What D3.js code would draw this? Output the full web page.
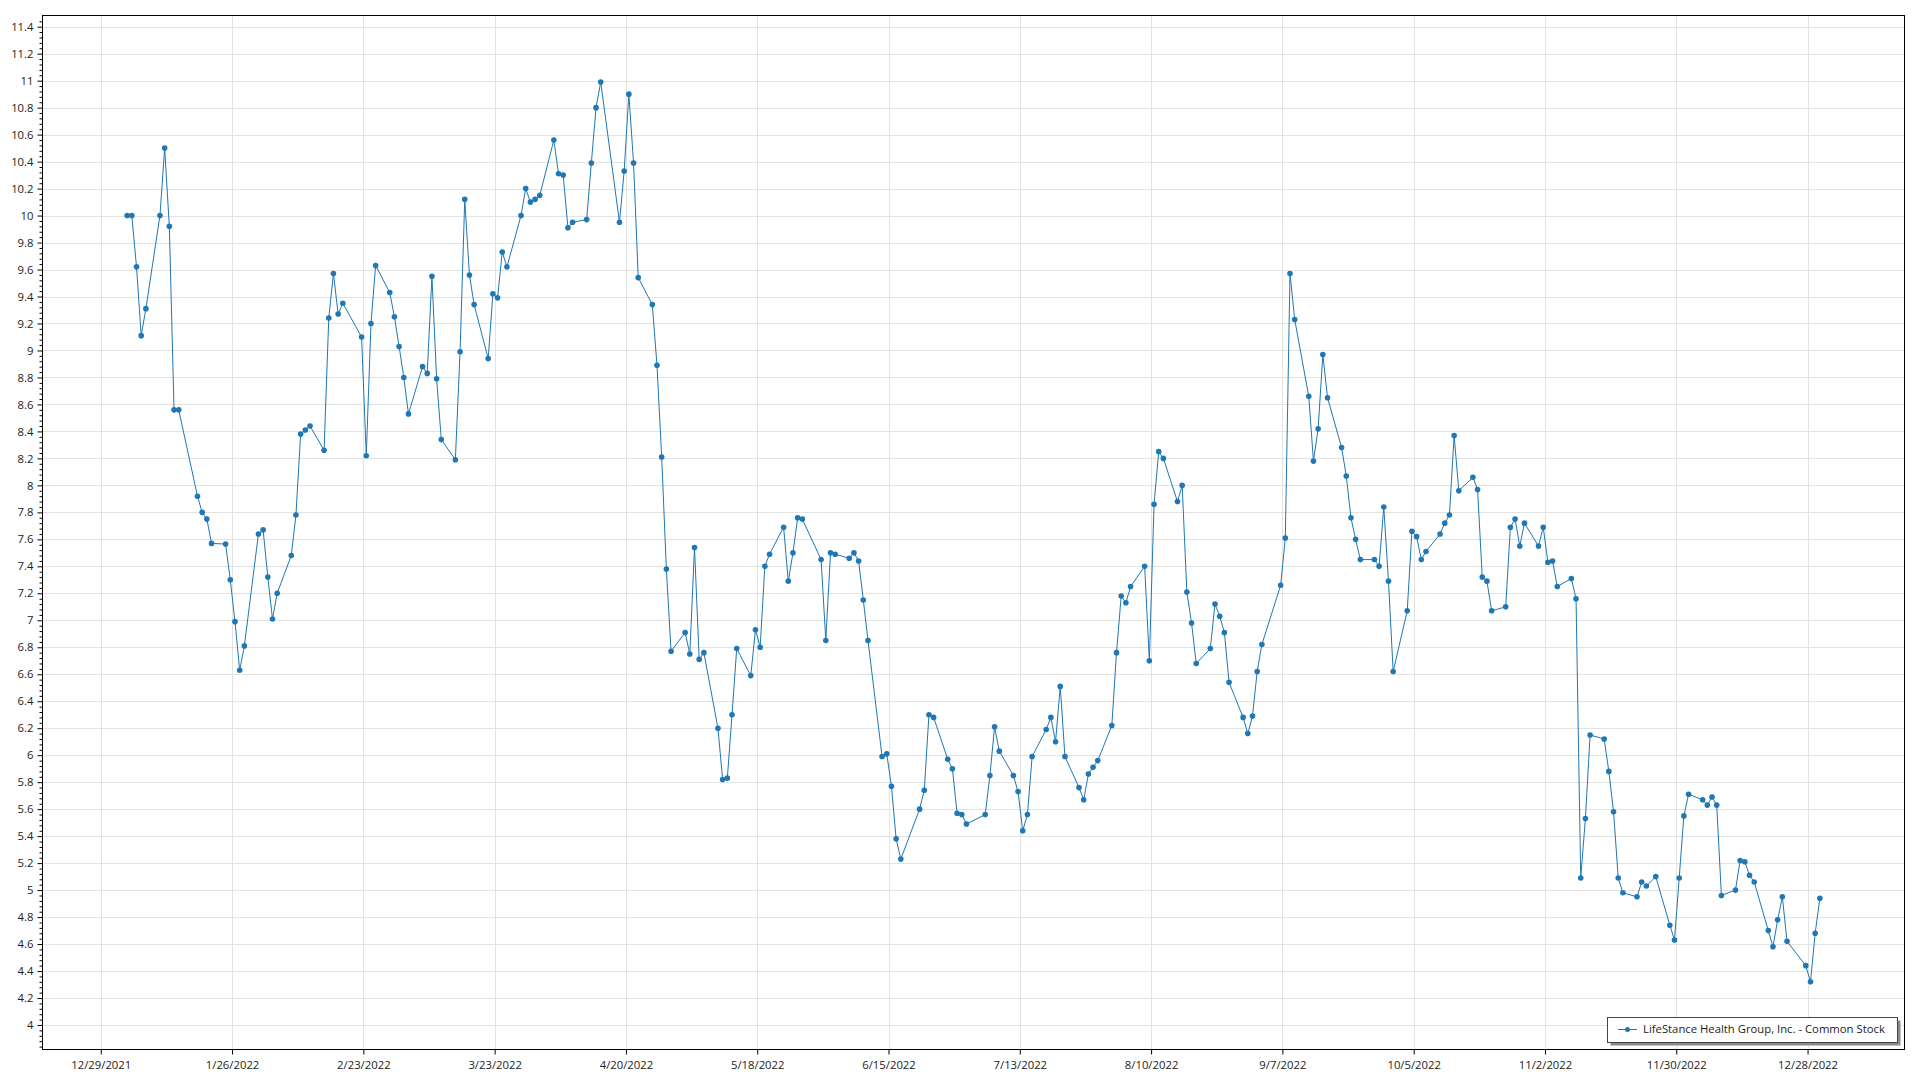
<!DOCTYPE html>
<html><head><meta charset="utf-8">
<script src="https://cdn.jsdelivr.net/npm/d3@7"></script>
<style>
body{margin:0;background:#fff;}
svg{display:block;font-family:"Open Sans","Noto Sans",sans-serif;}
</style>
</head><body>
<svg id="chart" width="1920" height="1080"></svg>
<script>
const seriesName = "LifeStance Health Group, Inc. - Common Stock";

const tradeDates = [
"2022-01-03","2022-01-04","2022-01-05","2022-01-06","2022-01-07","2022-01-10","2022-01-11","2022-01-12","2022-01-13","2022-01-14","2022-01-18","2022-01-19","2022-01-20","2022-01-21","2022-01-24","2022-01-25","2022-01-26","2022-01-27","2022-01-28","2022-01-31",
"2022-02-01","2022-02-02","2022-02-03","2022-02-04","2022-02-07","2022-02-08","2022-02-09","2022-02-10","2022-02-11","2022-02-14","2022-02-15","2022-02-16","2022-02-17","2022-02-18","2022-02-22","2022-02-23","2022-02-24","2022-02-25","2022-02-28",
"2022-03-01","2022-03-02","2022-03-03","2022-03-04","2022-03-07","2022-03-08","2022-03-09","2022-03-10","2022-03-11","2022-03-14","2022-03-15","2022-03-16","2022-03-17","2022-03-18","2022-03-21","2022-03-22","2022-03-23","2022-03-24","2022-03-25","2022-03-28","2022-03-29","2022-03-30","2022-03-31",
"2022-04-01","2022-04-04","2022-04-05","2022-04-06","2022-04-07","2022-04-08","2022-04-11","2022-04-12","2022-04-13","2022-04-14","2022-04-18","2022-04-19","2022-04-20","2022-04-21","2022-04-22","2022-04-25","2022-04-26","2022-04-27","2022-04-28","2022-04-29",
"2022-05-02","2022-05-03","2022-05-04","2022-05-05","2022-05-06","2022-05-09","2022-05-10","2022-05-11","2022-05-12","2022-05-13","2022-05-16","2022-05-17","2022-05-18","2022-05-19","2022-05-20","2022-05-23","2022-05-24","2022-05-25","2022-05-26","2022-05-27","2022-05-31",
"2022-06-01","2022-06-02","2022-06-03","2022-06-06","2022-06-07","2022-06-08","2022-06-09","2022-06-10","2022-06-13","2022-06-14","2022-06-15","2022-06-16","2022-06-17","2022-06-21","2022-06-22","2022-06-23","2022-06-24","2022-06-27","2022-06-28","2022-06-29","2022-06-30",
"2022-07-01","2022-07-05","2022-07-06","2022-07-07","2022-07-08","2022-07-11","2022-07-12","2022-07-13","2022-07-14","2022-07-15","2022-07-18","2022-07-19","2022-07-20","2022-07-21","2022-07-22","2022-07-25","2022-07-26","2022-07-27","2022-07-28","2022-07-29",
"2022-08-01","2022-08-02","2022-08-03","2022-08-04","2022-08-05","2022-08-08","2022-08-09","2022-08-10","2022-08-11","2022-08-12","2022-08-15","2022-08-16","2022-08-17","2022-08-18","2022-08-19","2022-08-22","2022-08-23","2022-08-24","2022-08-25","2022-08-26","2022-08-29","2022-08-30","2022-08-31",
"2022-09-01","2022-09-02","2022-09-06","2022-09-07","2022-09-08","2022-09-09","2022-09-12","2022-09-13","2022-09-14","2022-09-15","2022-09-16","2022-09-19","2022-09-20","2022-09-21","2022-09-22","2022-09-23","2022-09-26","2022-09-27","2022-09-28","2022-09-29","2022-09-30",
"2022-10-03","2022-10-04","2022-10-05","2022-10-06","2022-10-07","2022-10-10","2022-10-11","2022-10-12","2022-10-13","2022-10-14","2022-10-17","2022-10-18","2022-10-19","2022-10-20","2022-10-21","2022-10-24","2022-10-25","2022-10-26","2022-10-27","2022-10-28","2022-10-31",
"2022-11-01","2022-11-02","2022-11-03","2022-11-04","2022-11-07","2022-11-08","2022-11-09","2022-11-10","2022-11-11","2022-11-14","2022-11-15","2022-11-16","2022-11-17","2022-11-18","2022-11-21","2022-11-22","2022-11-23","2022-11-25","2022-11-28","2022-11-29","2022-11-30",
"2022-12-01","2022-12-02","2022-12-05","2022-12-06","2022-12-07","2022-12-08","2022-12-09","2022-12-12","2022-12-13","2022-12-14","2022-12-15","2022-12-16","2022-12-19","2022-12-20","2022-12-21","2022-12-22","2022-12-23","2022-12-27","2022-12-28","2022-12-29","2022-12-30"
];

const closePrices = [
10.00,10.00,9.62,9.11,9.31,10.00,10.50,9.92,8.56,8.56,7.92,7.80,7.75,7.57,7.565,7.30,6.99,6.63,6.81,7.64,
7.67,7.32,7.01,7.20,7.48,7.78,8.38,8.41,8.44,8.26,9.24,9.57,9.27,9.35,9.10,8.22,9.20,9.63,9.43,
9.25,9.03,8.80,8.53,8.88,8.83,9.55,8.79,8.34,8.19,8.99,10.12,9.56,9.34,8.94,9.42,9.39,9.73,9.62,10.00,10.20,10.10,10.12,
10.15,10.56,10.31,10.30,9.91,9.95,9.97,10.39,10.80,10.99,9.95,10.33,10.90,10.39,9.54,9.34,8.89,8.21,7.38,6.77,
6.91,6.75,7.54,6.71,6.76,6.20,5.82,5.83,6.30,6.79,6.59,6.93,6.80,7.40,7.49,7.69,7.29,7.50,7.76,7.75,7.45,
6.85,7.50,7.49,7.46,7.50,7.44,7.15,6.85,5.99,6.01,5.77,5.38,5.23,5.60,5.74,6.30,6.28,5.97,5.90,5.57,5.56,
5.49,5.56,5.85,6.21,6.03,5.85,5.73,5.44,5.56,5.99,6.19,6.28,6.10,6.51,5.99,5.76,5.67,5.86,5.91,5.96,
6.22,6.76,7.18,7.13,7.25,7.40,6.70,7.86,8.25,8.20,7.88,8.00,7.21,6.98,6.68,6.79,7.12,7.03,6.91,6.54,6.28,6.16,6.29,
6.62,6.82,7.26,7.61,9.57,9.23,8.66,8.18,8.42,8.97,8.65,8.28,8.07,7.76,7.60,7.45,7.45,7.40,7.84,7.29,6.62,
7.07,7.66,7.62,7.45,7.51,7.64,7.72,7.78,8.37,7.96,8.06,7.97,7.32,7.29,7.07,7.10,7.69,7.75,7.55,7.72,7.55,
7.69,7.43,7.44,7.25,7.31,7.16,5.09,5.53,6.15,6.12,5.88,5.58,5.09,4.98,4.95,5.06,5.03,5.10,4.74,4.63,5.09,
5.55,5.71,5.67,5.63,5.69,5.63,4.96,5.00,5.22,5.21,5.11,5.06,4.70,4.58,4.78,4.95,4.62,4.44,4.32,4.68,4.94
];

const xTickDates = ["2021-12-29","2022-01-26","2022-02-23","2022-03-23","2022-04-20","2022-05-18","2022-06-15","2022-07-13","2022-08-10","2022-09-07","2022-10-05","2022-11-02","2022-11-30","2022-12-28"];
const xTickLabels = ["12/29/2021","1/26/2022","2/23/2022","3/23/2022","4/20/2022","5/18/2022","6/15/2022","7/13/2022","8/10/2022","9/7/2022","10/5/2022","11/2/2022","11/30/2022","12/28/2022"];
const yTickValues = [4,4.2,4.4,4.6,4.8,5,5.2,5.4,5.6,5.8,6,6.2,6.4,6.6,6.8,7,7.2,7.4,7.6,7.8,8,8.2,8.4,8.6,8.8,9,9.2,9.4,9.6,9.8,10,10.2,10.4,10.6,10.8,11,11.2,11.4];
const yTickLabels = ["4","4.2","4.4","4.6","4.8","5","5.2","5.4","5.6","5.8","6","6.2","6.4","6.6","6.8","7","7.2","7.4","7.6","7.8","8","8.2","8.4","8.6","8.8","9","9.2","9.4","9.6","9.8","10","10.2","10.4","10.6","10.8","11","11.2","11.4"];

const lineColor = "#1f77b4";
const FS = 11.3;
const L = 42.5, R = 1904.5, T = 15.5, B = 1049.5;

const parse = d3.timeParse("%Y-%m-%d");
const pts = tradeDates.map((d, i) => ({date: d3.timeHour.offset(parse(d), 15), value: closePrices[i]}));
const ext = d3.extent(pts, p => p.date);
const span = ext[1] - ext[0];
const x = d3.scaleTime()
  .domain([new Date(+ext[0] - 0.05 * span), new Date(+ext[1] + 0.05 * span)])
  .range([L, R]);
const y = d3.scaleLinear().domain([3.8185, 11.483]).range([B, T]);

const svg = d3.select("#chart");

// gridlines
const grid = svg.append("g");
grid.selectAll("line.h").data(yTickValues).join("line")
  .attr("x1", L).attr("x2", R)
  .attr("y1", d => Math.round(y(d)) + 0.5).attr("y2", d => Math.round(y(d)) + 0.5)
  .attr("stroke", "#e3e3e3").attr("stroke-width", 1);
grid.selectAll("line.v").data(xTickDates).join("line")
  .attr("y1", T).attr("y2", B)
  .attr("x1", d => Math.round(x(parse(d))) + 0.5).attr("x2", d => Math.round(x(parse(d))) + 0.5)
  .attr("stroke", "#e3e3e3").attr("stroke-width", 1);

// axes
const yMinor = d3.range(3.84, 11.48, 0.04).filter(v => Math.abs(v * 5 - Math.round(v * 5)) > 1e-6);
const yAxisMinor = d3.axisLeft(y).tickValues(yMinor).tickSize(3).tickFormat("");
const gym = svg.append("g").attr("transform", `translate(${L},0)`).call(yAxisMinor);
gym.select(".domain").remove();
gym.selectAll("line").attr("stroke", "#000");

const yAxis = d3.axisLeft(y).tickValues(yTickValues).tickSize(5).tickPadding(4)
  .tickFormat((d, i) => yTickLabels[i]);
const gy = svg.append("g").attr("transform", `translate(${L},0)`).call(yAxis);
gy.select(".domain").remove();
gy.selectAll("line").attr("stroke", "#000");
gy.selectAll("text").attr("font-size", FS).attr("fill", "#222").attr("font-family", '"Open Sans",sans-serif');

const xAxis = d3.axisBottom(x).tickValues(xTickDates.map(parse)).tickSize(5).tickPadding(6)
  .tickFormat((d, i) => xTickLabels[i]);
const gx = svg.append("g").attr("transform", `translate(0,${B})`).call(xAxis);
gx.select(".domain").remove();
gx.selectAll("line").attr("stroke", "#000");
gx.selectAll("text").attr("font-size", FS).attr("fill", "#222").attr("font-family", '"Open Sans",sans-serif');

// frame
svg.append("rect").attr("x", L).attr("y", T).attr("width", R - L).attr("height", B - T)
  .attr("fill", "none").attr("stroke", "#000").attr("stroke-width", 1);

// series
const line = d3.line().x(p => x(p.date)).y(p => y(p.value));
svg.append("path").datum(pts).attr("d", line)
  .attr("fill", "none").attr("stroke", lineColor).attr("stroke-width", 1);
svg.append("g").selectAll("circle").data(pts).join("circle")
  .attr("cx", p => x(p.date)).attr("cy", p => y(p.value)).attr("r", 2.8)
  .attr("fill", lineColor);

// legend
const lg = svg.append("g");
lg.append("rect").attr("x", 1610.5).attr("y", 1020.5).attr("width", 290).attr("height", 25).attr("fill", "#8a8a8a");
lg.append("rect").attr("x", 1607.5).attr("y", 1017.5).attr("width", 290).attr("height", 25)
  .attr("fill", "#fff").attr("stroke", "#444").attr("stroke-width", 1);
lg.append("line").attr("x1", 1618).attr("x2", 1637).attr("y1", 1029.5).attr("y2", 1029.5)
  .attr("stroke", lineColor).attr("stroke-width", 1);
lg.append("circle").attr("cx", 1627.5).attr("cy", 1029.5).attr("r", 2.5).attr("fill", lineColor);
lg.append("text").attr("x", 1643).attr("y", 1029.5).attr("dy", "0.35em")
  .attr("font-size", FS).attr("fill", "#222").text(seriesName);
</script>
</body></html>
